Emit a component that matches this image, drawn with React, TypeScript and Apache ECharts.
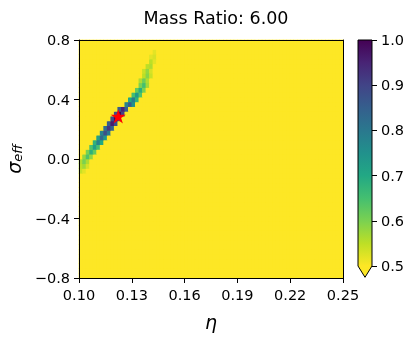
import React, { useEffect, useRef } from 'react';
import * as echarts from 'echarts';

const TITLE = 'Mass Ratio: 6.00';
const X_MIN = 0.10;
const X_MAX = 0.25;
const X_TICK = 0.03;
const Y_MIN = -0.8;
const Y_MAX = 0.8;
const Y_TICK = 0.4;
const N_COLS = 75;
const N_ROWS = 50;
const BACKGROUND = 0.3; // below the colour-scale minimum -> clipped yellow
const CBAR_MIN = 0.5;
const CBAR_MAX = 1.0;
const CBAR_TICK = 0.1;

// band of high values: row index, first column index, values of consecutive cells
const BAND_ROWS = [22, 23, 24, 25, 26, 27, 28, 29, 30, 31, 32, 33, 34, 35, 36, 37, 38, 39, 40, 41, 42, 43, 44, 45, 46, 47];
const BAND_START = [0, 0, 0, 1, 2, 3, 4, 5, 6, 7, 8, 9, 10, 11, 13, 14, 15, 16, 17, 17, 18, 18, 19, 20, 20, 21];
const BAND_VALUES = [
  [0.54, 0.52],
  [0.55, 0.57, 0.53],
  [0.56, 0.6, 0.56],
  [0.58, 0.64, 0.58],
  [0.6, 0.68, 0.62],
  [0.64, 0.72, 0.65],
  [0.68, 0.78, 0.7],
  [0.72, 0.83, 0.74],
  [0.78, 0.88, 0.8],
  [0.82, 0.92, 0.84],
  [0.86, 0.96, 0.88],
  [0.88, 0.99, 0.9],
  [0.88, 1.0, 0.9],
  [0.85, 0.95, 0.85],
  [0.78, 0.86, 0.75],
  [0.7, 0.79, 0.68],
  [0.65, 0.73, 0.64],
  [0.62, 0.69, 0.6],
  [0.6, 0.65, 0.57],
  [0.56, 0.61, 0.56],
  [0.55, 0.59, 0.54],
  [0.54, 0.58, 0.53],
  [0.55, 0.56],
  [0.55, 0.52],
  [0.52, 0.53],
  [0.52],
];
const BEST_FIT = [0.1223, 0.287];

const VIRIDIS = ['#440154', '#482475', '#414487', '#355f8d', '#2a788e', '#21918c', '#22a884', '#44bf70', '#7ad151', '#bddf26', '#fde725'];

const STAR = 'path://M100,0L122.45,69.1L195.11,69.1L136.33,111.8L158.78,180.9L100,138.2L41.22,180.9L63.67,111.8L4.89,69.1L77.55,69.1Z';
const FONT = 'DejaVu Sans';

function buildCells() {
  const DX = (X_MAX - X_MIN) / N_COLS;
  const DY = (Y_MAX - Y_MIN) / N_ROWS;
  const g: number[][] = Array.from({ length: N_ROWS }, () => Array(N_COLS).fill(BACKGROUND));
  BAND_ROWS.forEach((r, i) => BAND_VALUES[i].forEach((v, j) => { g[r][BAND_START[i] + j] = v; }));
  const cells: number[][] = [];
  for (let r = 0; r < N_ROWS; r++) for (let c = 0; c < N_COLS; c++) cells.push([X_MIN + c * DX, Y_MIN + r * DY, g[r][c]]);
  return { cells, DX, DY };
}

const fmt1 = (v: number) => (Math.abs(v) < 1e-9 ? '0.0' : v < 0 ? '\u2212' + Math.abs(v).toFixed(1) : v.toFixed(1));

export default function App() {
  const ref = useRef<HTMLDivElement>(null);
  useEffect(() => {
    document.body.style.margin = '0';
    const chart = echarts.init(ref.current!, null, { renderer: 'svg' });
    const { cells, DX, DY } = buildCells();
    const lineStyle = { color: '#000', width: 1 };
    const axisCommon = {
      z: 20,
      axisLine: { show: true, onZero: false, lineStyle },
      axisTick: { show: true, inside: false, length: 5, lineStyle },
      splitLine: { show: false },
    };
    const frame = {
      z: 20,
      axisLine: { show: true, onZero: false, lineStyle },
      axisTick: { show: false }, axisLabel: { show: false }, splitLine: { show: false },
    };
    chart.setOption({
      animation: false,
      title: {
        text: TITLE, left: 211, top: 4, textAlign: 'center',
        textStyle: { fontFamily: FONT, fontSize: 17.5, fontWeight: 'normal', color: '#000' },
      },
      grid: [
        { left: 79, top: 40, width: 264, height: 238, containLabel: false, outerBoundsMode: 'none', show: true, borderWidth: 0, backgroundColor: '#fde725' },
        { left: 358, top: 40, width: 14, height: 226, containLabel: false, outerBoundsMode: 'none' },
      ],
      visualMap: {
        type: 'continuous', show: false, min: CBAR_MIN, max: CBAR_MAX, dimension: 2, seriesIndex: 0,
        inRange: { color: VIRIDIS.slice().reverse() }, outOfRange: { color: '#fde725' },
      },
      xAxis: [
        {
          type: 'value', gridIndex: 0, min: X_MIN, max: X_MAX, interval: X_TICK, position: 'bottom', ...axisCommon,
          axisLabel: { margin: 9, color: '#000', fontFamily: FONT, fontSize: 14.5, formatter: (v: number) => v.toFixed(2) },
          name: 'η', nameLocation: 'middle', nameGap: 34,
          nameTextStyle: { fontFamily: FONT, fontSize: 19, fontStyle: 'italic', color: '#000' },
        },
        { type: 'value', gridIndex: 1, min: 0, max: 1, show: false },
        { type: 'value', gridIndex: 0, min: X_MIN, max: X_MAX, position: 'top', show: true, ...frame },
      ],
      yAxis: [
        {
          type: 'value', gridIndex: 0, min: Y_MIN, max: Y_MAX, interval: Y_TICK, position: 'left', ...axisCommon,
          axisLabel: { margin: 9, color: '#000', fontFamily: FONT, fontSize: 14.5, formatter: fmt1 },
          name: '{s|σ}{e|eff}', nameLocation: 'middle', nameGap: 54, nameRotate: 90,
          nameTextStyle: {
            color: '#000',
            rich: {
              s: { fontFamily: FONT, fontSize: 19, fontStyle: 'italic', color: '#000', lineHeight: 24, verticalAlign: 'bottom' },
              e: { fontFamily: FONT, fontSize: 13, fontStyle: 'italic', color: '#000', lineHeight: 17, verticalAlign: 'bottom' },
            },
          },
        },
        {
          type: 'value', gridIndex: 1, min: CBAR_MIN, max: CBAR_MAX, interval: CBAR_TICK, position: 'right',
          axisLine: { show: false, onZero: false },
          axisTick: { show: true, inside: false, length: 5, lineStyle },
          splitLine: { show: false },
          axisLabel: { margin: 9, color: '#000', fontFamily: FONT, fontSize: 14.5, formatter: fmt1 },
        },
        { type: 'value', gridIndex: 0, min: Y_MIN, max: Y_MAX, position: 'right', show: true, ...frame },
      ],
      series: [
        {
          type: 'custom', xAxisIndex: 0, yAxisIndex: 0, silent: true, data: cells, z: 2,
          encode: { x: 0, y: 1 },
          renderItem: (_p: any, api: any) => {
            const x = api.value(0), y = api.value(1);
            const a = api.coord([x, y]);
            const b = api.coord([x + DX, y + DY]);
            return {
              type: 'rect',
              shape: { x: a[0] - 0.3, y: b[1] - 0.3, width: b[0] - a[0] + 0.6, height: a[1] - b[1] + 0.6 },
              style: { fill: api.visual('color') },
            };
          },
        },
        {
          type: 'custom', xAxisIndex: 1, yAxisIndex: 1, silent: true, data: [[0, CBAR_MIN]],
          renderItem: (_p: any, api: any) => {
            const tl = api.coord([0, CBAR_MAX]);
            const br = api.coord([1, CBAR_MIN]);
            const h = br[1] - tl[1];
            const tip = br[1] + 0.05 * h;
            const xc = (tl[0] + br[0]) / 2;
            return {
              type: 'group',
              children: [
                {
                  type: 'rect', shape: { x: tl[0], y: tl[1], width: br[0] - tl[0], height: h },
                  style: { fill: new echarts.graphic.LinearGradient(0, 0, 0, 1, VIRIDIS.map((c, i) => ({ offset: i / (VIRIDIS.length - 1), color: c }))) },
                },
                { type: 'polygon', shape: { points: [[tl[0], br[1]], [br[0], br[1]], [xc, tip]] }, style: { fill: '#fde725' } },
                {
                  type: 'polygon',
                  shape: { points: [[tl[0], tl[1]], [br[0], tl[1]], [br[0], br[1]], [xc, tip], [tl[0], br[1]]] },
                  style: { fill: 'none', stroke: '#000', lineWidth: 1 },
                },
              ],
            };
          },
        },
        {
          type: 'scatter', xAxisIndex: 0, yAxisIndex: 0, silent: true, data: [BEST_FIT],
          symbol: STAR, symbolKeepAspect: true, symbolSize: 15, z: 10,
          itemStyle: { color: '#ff0000', opacity: 1 },
        },
      ],
    });
    return () => chart.dispose();
  }, []);
  return <div ref={ref} style={{ position: 'fixed', left: 0, top: 0, width: 415, height: 337 }} />;
}
